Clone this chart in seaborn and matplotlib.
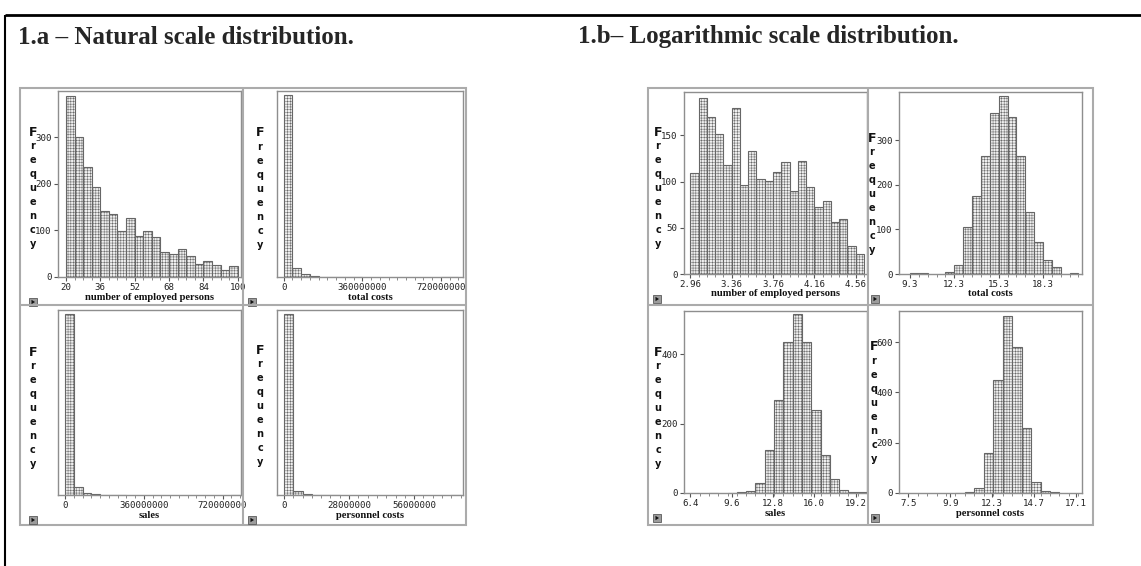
import numpy as np
import pandas as pd
import matplotlib
matplotlib.use("Agg")
import matplotlib.pyplot as plt
import seaborn as sns
from matplotlib.patches import Rectangle, Polygon
from matplotlib.lines import Line2D

# ---------------- data ----------------
# natural scale
emp_nat_start, emp_nat_width = 20, 4
emp_nat_counts = [389, 300, 235, 193, 141, 135, 98, 126, 89, 98,
                  86, 53, 49, 61, 45, 28, 34, 26, 14, 23]
tc_nat_start, tc_nat_width = 0, 40e6
tc_nat_counts = [2060, 100, 30, 10, 5, 3, 2, 1, 1, 0,
                 0, 0, 0, 0, 0, 0, 0, 0, 1, 1]
sales_nat_start, sales_nat_width = 0, 40e6
sales_nat_counts = [2090, 88, 22, 8, 4, 2, 1, 0, 0, 0,
                    0, 0, 0, 0, 0, 0, 0, 0, 0, 1]
pc_nat_start, pc_nat_width = 0, 4e6
pc_nat_counts = [2150, 45, 10, 4, 2, 1, 0, 0, 0, 0,
                 0, 0, 0, 0, 0, 0, 0, 0, 1]

# logarithmic scale
emp_log_start, emp_log_width = 2.96, 0.08
emp_log_counts = [109, 191, 170, 151, 118, 180, 96, 133, 103, 101, 110,
                  121, 90, 122, 94, 73, 79, 56, 60, 30, 22]
tc_log_start, tc_log_width = 9.3, 0.6
tc_log_counts = [2, 2, 0, 0, 4, 20, 106, 175, 264, 362, 398, 351, 264,
                 139, 71, 31, 15, 1, 3]
sales_log_start, sales_log_width = 6.4, 0.72
sales_log_counts = [0, 0, 1, 0, 1, 2, 5, 30, 125, 267, 435, 516, 435,
                    240, 110, 40, 10, 4, 2]
pc_log_start, pc_log_width = 7.5, 0.54
pc_log_counts = [0, 0, 0, 0, 0, 1, 3, 20, 160, 450, 705, 580, 258,
                 45, 8, 2, 0, 0]

emp_nat_ticks = [20, 36, 52, 68, 84, 100]
big_nat_ticks = [0, 360000000, 720000000]
pc_nat_ticks = [0, 28000000, 56000000]
emp_log_ticks = [2.96, 3.36, 3.76, 4.16, 4.56]
tc_log_ticks = [9.3, 12.3, 15.3, 18.3]
sales_log_ticks = [6.4, 9.6, 12.8, 16.0, 19.2]
pc_log_ticks = [7.5, 9.9, 12.3, 14.7, 17.1]

xlabels = ["number of employed persons", "total costs", "sales", "personnel costs"]
titles = ["1.a \u2013 Natural scale distribution.", "1.b\u2013 Logarithmic scale distribution."]
ylabel_word = "Frequency"

# ---------------- style ----------------
sns.set_theme(style="white")
plt.rcParams['font.family'] = ['DejaVu Sans']
plt.rcParams['hatch.color'] = '#a2a2a2'
plt.rcParams['hatch.linewidth'] = 0.35

W, H = 1141, 566
fig = plt.figure(figsize=(W / 100, H / 100), dpi=100)
fig.patch.set_facecolor('white')


def fx(x):
    return x / W


def fy(y):
    return 1 - y / H


def fig_line(x0, y0, x1, y1, color, lw):
    fig.add_artist(Line2D([fx(x0), fx(x1)], [fy(y0), fy(y1)], color=color, lw=lw,
                          transform=fig.transFigure, solid_capstyle='butt'))


# outer frame
fig_line(5, 15, W, 15, 'black', 2.0)
fig_line(5, 15, 5, H, 'black', 1.5)

fig.text(fx(18), fy(37), titles[0], family='Liberation Serif', weight='bold',
         fontsize=18, va='center', ha='left')
fig.text(fx(578), fy(37), titles[1], family='Liberation Serif', weight='bold',
         fontsize=18, va='center', ha='left')

# block frames
grey = '#ababab'
for (bx0, bx1, bmid) in [(20, 466, 243), (648, 1093, 868)]:
    fig.add_artist(Rectangle((fx(bx0), fy(525)), (bx1 - bx0) / W, (525 - 88) / H,
                             fill=False, edgecolor=grey, lw=1.5, transform=fig.transFigure))
    fig_line(bmid, 88, bmid, 525, grey, 1.5)
    fig_line(bx0, 305, bx1, 305, grey, 1.5)

panels = [
    # natural
    dict(start=emp_nat_start, width=emp_nat_width, counts=emp_nat_counts,
         box=(58, 91, 241, 277), xlim=(16.3, 101.5), ytop=399,
         yticks=[0, 100, 200, 300], xticks=emp_nat_ticks, fmt="%d", xlabel=xlabels[0],
         ylx=33, yly=132),
    dict(start=tc_nat_start, width=tc_nat_width, counts=tc_nat_counts,
         box=(277, 91, 463, 277), xlim=(-30.7e6, 821e6), ytop=None,
         yticks=[], xticks=big_nat_ticks, fmt="%d", xlabel=xlabels[1],
         ylx=260, yly=133),
    dict(start=sales_nat_start, width=sales_nat_width, counts=sales_nat_counts,
         box=(58, 310, 241, 495), xlim=(-32e6, 804e6), ytop=None,
         yticks=[], xticks=big_nat_ticks, fmt="%d", xlabel=xlabels[2],
         ylx=33, yly=352),
    dict(start=pc_nat_start, width=pc_nat_width, counts=pc_nat_counts,
         box=(277, 310, 463, 495), xlim=(-3.0e6, 77e6), ytop=None,
         yticks=[], xticks=pc_nat_ticks, fmt="%d", xlabel=xlabels[3],
         ylx=260, yly=350),
    # logarithmic
    dict(start=emp_log_start, width=emp_log_width, counts=emp_log_counts,
         box=(684, 92, 867, 274), xlim=(2.899, 4.669), ytop=197,
         yticks=[0, 50, 100, 150], xticks=emp_log_ticks, fmt="%.2f", xlabel=xlabels[0],
         ylx=658, yly=132),
    dict(start=tc_log_start, width=tc_log_width, counts=tc_log_counts,
         box=(899, 92, 1082, 274), xlim=(8.556, 20.94), ytop=408,
         yticks=[0, 100, 200, 300], xticks=tc_log_ticks, fmt="%.1f", xlabel=xlabels[1],
         ylx=872, yly=138),
    dict(start=sales_log_start, width=sales_log_width, counts=sales_log_counts,
         box=(684, 311, 867, 493), xlim=(5.906, 19.82), ytop=525,
         yticks=[0, 200, 400], xticks=sales_log_ticks, fmt="%.1f", xlabel=xlabels[2],
         ylx=658, yly=352),
    dict(start=pc_log_start, width=pc_log_width, counts=pc_log_counts,
         box=(899, 311, 1082, 493), xlim=(6.974, 17.43), ytop=724,
         yticks=[0, 200, 400, 600], xticks=pc_log_ticks, fmt="%.1f", xlabel=xlabels[3],
         ylx=874, yly=347),
]

for p in panels:
    x0, y0, x1, y1 = p['box']
    ax = fig.add_axes([fx(x0), fy(y1), (x1 - x0) / W, (y1 - y0) / H])
    counts = np.array(p['counts'], dtype=int)
    edges = p['start'] + p['width'] * np.arange(len(counts) + 1)
    centers = (edges[:-1] + edges[1:]) / 2
    values = np.repeat(centers, counts)
    df = pd.DataFrame({'x': values})
    sns.histplot(data=df, x='x', bins=edges.tolist(), ax=ax, stat='count',
                 color='#efefef', edgecolor='#666666', linewidth=0.8, alpha=1)
    for patch in ax.patches:
        patch.set_hatch('++++++')
        if patch.get_height() <= 0:
            patch.set_visible(False)
    ax.set_xlim(*p['xlim'])
    ytop = p['ytop'] if p['ytop'] else counts.max() * 1.02
    ax.set_ylim(0, ytop)
    ax.set_xlabel('')
    ax.set_ylabel('')
    for s in ax.spines.values():
        s.set_color('#8e8e8e')
        s.set_linewidth(1.0)
    ax.set_xticks(p['xticks'])
    ax.set_xticklabels([p['fmt'] % v for v in p['xticks']], family='DejaVu Sans Mono',
                       fontsize=6.6, color='#222222')
    ax.set_xticks(edges, minor=True)
    ax.set_yticks(p['yticks'])
    ax.set_yticklabels([str(v) for v in p['yticks']], family='DejaVu Sans Mono',
                       fontsize=6.6, color='#222222')
    ax.tick_params(axis='both', which='major', direction='out', length=3, width=0.8,
                   color='#555555', pad=1.5, bottom=True, left=len(p['yticks']) > 0)
    ax.tick_params(axis='x', which='minor', direction='out', length=2, width=0.6,
                   color='#777777', bottom=True)
    ax.patch.set_facecolor('white')

    # x label
    fig.text(fx((x0 + x1) / 2), fy(y1 + 20), p['xlabel'], family='Liberation Serif',
             weight='bold', fontsize=7.6, ha='center', va='center', color='#111111')
    # vertical "Frequency"
    for i, ch in enumerate(ylabel_word):
        fig.text(fx(p['ylx']), fy(p['yly'] + 14 * i), ch, family='DejaVu Sans',
                 weight='bold', fontsize=9 if i == 0 else 7, ha='center', va='center',
                 color='#111111')
    # arrow button
    bx = {58: 29, 277: 248, 684: 653, 899: 871}[x0]
    by = y1 + 21
    fig.add_artist(Rectangle((fx(bx), fy(by + 8)), 8 / W, 8 / H, facecolor='#9c9c9c',
                             edgecolor='#5a5a5a', lw=0.6, transform=fig.transFigure))
    fig.add_artist(Polygon([(fx(bx + 2.5), fy(by + 1.8)), (fx(bx + 2.5), fy(by + 6.2)),
                            (fx(bx + 6), fy(by + 4))], closed=True, facecolor='#111111',
                           edgecolor='none', transform=fig.transFigure))

fig.savefig('out.png', dpi=100, facecolor='white')
